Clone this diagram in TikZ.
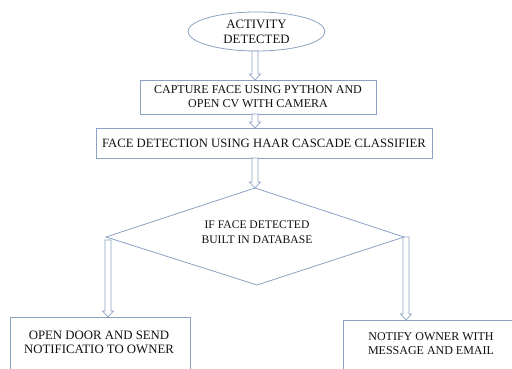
\documentclass[tikz,border=0pt]{standalone}
\usepackage{fontspec}
\setmainfont{Liberation Serif}
\usetikzlibrary{calc,shapes.geometric}
\definecolor{edge}{HTML}{8AA2C2}
\definecolor{ink}{HTML}{111111}
\tikzset{
  box/.style={draw=edge, line width=0.8pt, rectangle, minimum height=#1, inner sep=0pt, align=center, text=ink},
  lbl/.style={text=ink, align=center, inner sep=0pt},
  blockarrow/.style={draw=edge, line width=0.7pt, fill=white,
    to path={let \p1=(\tikztostart), \p2=(\tikztotarget) in
      (\x1-3pt,\y1) -- (\x1-3pt,\y2+6pt) -- (\x1-5.5pt,\y2+6pt) -- (\x1,\y2)
      -- (\x1+5.5pt,\y2+6pt) -- (\x1+3pt,\y2+6pt) -- (\x1+3pt,\y1) -- cycle}},
}
\begin{document}
\begin{tikzpicture}[x=1pt,y=-1pt]
\useasboundingbox (0,0) rectangle (512,369);
\clip (0,0) rectangle (512,369);
% ellipse
\node[ellipse, draw=edge, line width=0.8pt, minimum width=137pt, minimum height=39pt, inner sep=0pt, align=center, text=ink, font=\fontsize{12.8}{15}\selectfont] (act) at (256.5,31.5) {ACTIVITY\\DETECTED};
% boxes
\node[box=34pt, minimum width=236pt, font=\fontsize{12}{14}\selectfont] (cap) at (258,97) {CAPTURE FACE USING PYTHON AND\\OPEN CV WITH CAMERA};
\node[box=30pt, minimum width=336pt, font=\fontsize{12.7}{15}\selectfont] (haar) at (264,143) {FACE DETECTION USING HAAR CASCADE CLASSIFIER};
% diamond
\coordinate (dtop) at (255,188);
\coordinate (dleft) at (106,237);
\coordinate (dright) at (404,237);
\coordinate (dbot) at (257,285);
\draw[edge, line width=0.8pt] (dtop) -- (dright) -- (dbot) -- (dleft) -- cycle;
\node[lbl, font=\fontsize{11.6}{15.5}\selectfont] (dec) at (257,232) {IF FACE DETECTED\\BUILT IN DATABASE};
% bottom boxes
\node[box=80pt, minimum width=180pt, anchor=north west] (open) at (10,317) {};
\node[lbl, font=\fontsize{12.8}{14}\selectfont] (opent) at (99,342) {OPEN DOOR AND SEND\\NOTIFICATIO TO OWNER};
\node[box=80pt, minimum width=200pt, anchor=north west] (notify) at (343,320) {};
\node[lbl, font=\fontsize{12}{14}\selectfont] (notifyt) at (431,344) {NOTIFY OWNER WITH\\MESSAGE AND EMAIL};
% arrows
\path (255,51) coordinate (a1s) (255,80) coordinate (a1e);
\draw[blockarrow] (a1s) to (a1e);
\path (255,114) coordinate (a2s) (255,128) coordinate (a2e);
\draw[blockarrow] (a2s) to (a2e);
\path (255,158) coordinate (a3s);
\draw[blockarrow] (a3s) to (dtop);
\path (108,240) coordinate (a4s) (108,317) coordinate (a4e);
\draw[blockarrow] (a4s) to (a4e);
\path (406,237) coordinate (a5s) (406,320) coordinate (a5e);
\draw[blockarrow] (a5s) to (a5e);
\end{tikzpicture}
\end{document}
